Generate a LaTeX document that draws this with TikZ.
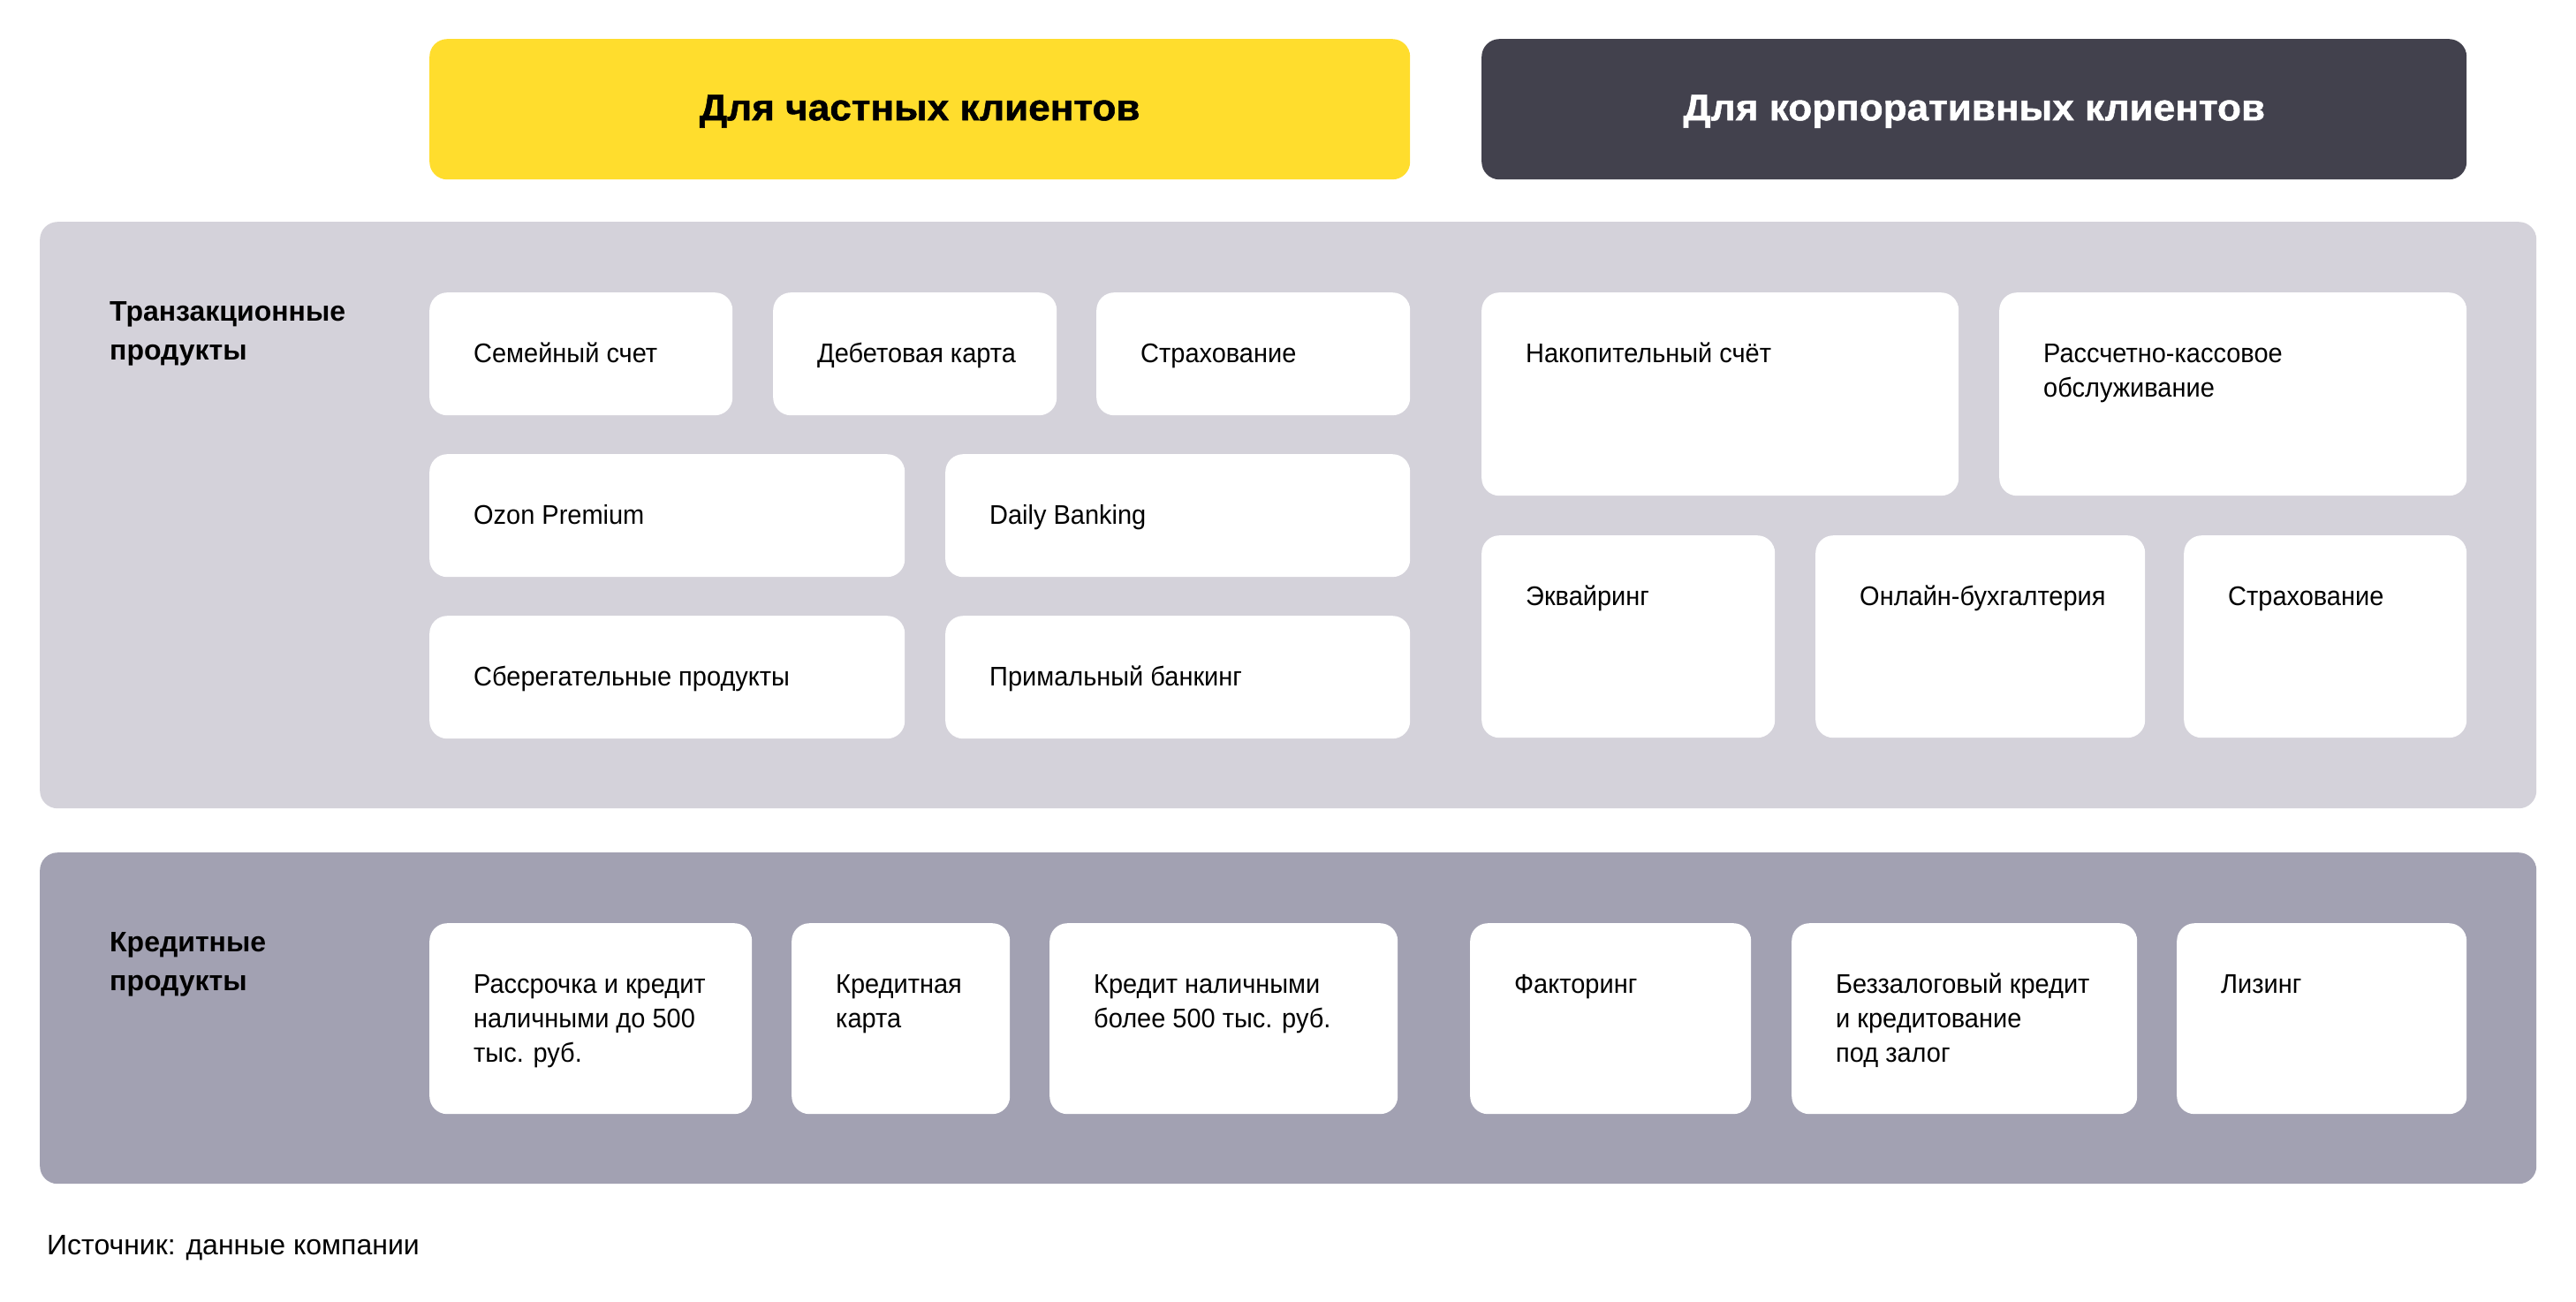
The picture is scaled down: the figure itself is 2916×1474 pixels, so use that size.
\documentclass[tikz,border=0pt]{standalone}
\usepackage{fontspec}
\setmainfont{Liberation Sans}
\newfontfamily\cardfont{Liberation Sans}[FakeStretch=0.95]
\newfontfamily\headfont{Liberation Sans}[FakeStretch=1.05, BoldFeatures={FakeBold=1.2}]
\usetikzlibrary{calc}
\definecolor{ylw}{RGB}{255,221,45}
\definecolor{drk}{RGB}{66,65,77}
\definecolor{pnlA}{RGB}{212,210,218}
\definecolor{pnlB}{RGB}{162,161,178}
\newcommand\toplines[1]{\parbox[t]{900pt}{\raggedright #1}}
\tikzset{
  panel/.style={rounded corners=20pt, draw=none},
  header/.style={rounded corners=20pt, draw=none, anchor=north west, inner sep=0pt,
    text height=25pt, text depth=0pt,
    font=\headfont\fontsize{42}{50}\selectfont\bfseries},
  card/.style={fill=white, rounded corners=20pt, draw=none, anchor=north west, inner sep=0pt},
  cardtext/.style={anchor=base west, inner sep=0pt,
    font=\cardfont\fontsize{30.5}{39}\selectfont, text=black},
  rowlabel/.style={anchor=base west, inner sep=0pt,
    font=\fontsize{32}{44}\selectfont\bfseries, text=black},
  source/.style={anchor=base west, inner sep=0pt, font=\fontsize{32}{38}\selectfont, text=black}
}
\newcommand\prodcard[6]{%
  \node[card, minimum width=#4pt, minimum height=#5pt] (#1) at (#2,#3) {};
  \node[cardtext] (#1t) at ($(#1.north west)+(50,79)$) {\toplines{#6}};
}
\begin{document}
\begin{tikzpicture}[x=1pt,y=-1pt]
\useasboundingbox (0,0) rectangle (2916,1474);
% headers
\node[header, fill=ylw, text=black, minimum width=1110pt, minimum height=159pt] (hprivate) at (486,44) {Для частных клиентов};
\node[header, fill=drk, text=white, minimum width=1115pt, minimum height=159pt] (hcorp) at (1677,44) {Для корпоративных клиентов};
% panels
\node[panel, fill=pnlA, anchor=north west, inner sep=0pt, minimum width=2826pt, minimum height=664pt] (ptrans) at (45,251) {};
\node[panel, fill=pnlB, anchor=north west, inner sep=0pt, minimum width=2826pt, minimum height=375pt] (pcredit) at (45,965) {};
% row labels
\node[rowlabel] (ltrans) at (124,363) {\toplines{Транзакционные\\продукты}};
\node[rowlabel] (lcredit) at (124,1077) {\toplines{Кредитные\\продукты}};
% transactional, private
\prodcard{c1}{486}{331}{343}{139}{Семейный счет}
\prodcard{c2}{875}{331}{321}{139}{Дебетовая карта}
\prodcard{c3}{1241}{331}{355}{139}{Страхование}
\prodcard{c4}{486}{514}{538}{139}{Ozon Premium}
\prodcard{c5}{1070}{514}{526}{139}{Daily Banking}
\prodcard{c6}{486}{697}{538}{139}{Сберегательные продукты}
\prodcard{c7}{1070}{697}{526}{139}{Примальный банкинг}
% transactional, corporate
\prodcard{c8}{1677}{331}{540}{230}{Накопительный счёт}
\prodcard{c9}{2263}{331}{529}{230}{Рассчетно-кассовое\\обслуживание}
\prodcard{c10}{1677}{606}{332}{229}{Эквайринг}
\prodcard{c11}{2055}{606}{373}{229}{Онлайн-бухгалтерия}
\prodcard{c12}{2472}{606}{320}{229}{Страхование}
% credit
\prodcard{d1}{486}{1045}{365}{216}{Рассрочка и кредит\\наличными до 500\\тыс. руб.}
\prodcard{d2}{896}{1045}{247}{216}{Кредитная\\карта}
\prodcard{d3}{1188}{1045}{394}{216}{Кредит наличными\\более 500 тыс. руб.}
\prodcard{d4}{1664}{1045}{318}{216}{Факторинг}
\prodcard{d5}{2028}{1045}{391}{216}{Беззалоговый кредит\\и кредитование\\под залог}
\prodcard{d6}{2464}{1045}{328}{216}{Лизинг}
% source
\node[source] (src) at (53,1420) {Источник: данные компании};
\end{tikzpicture}
\end{document}
